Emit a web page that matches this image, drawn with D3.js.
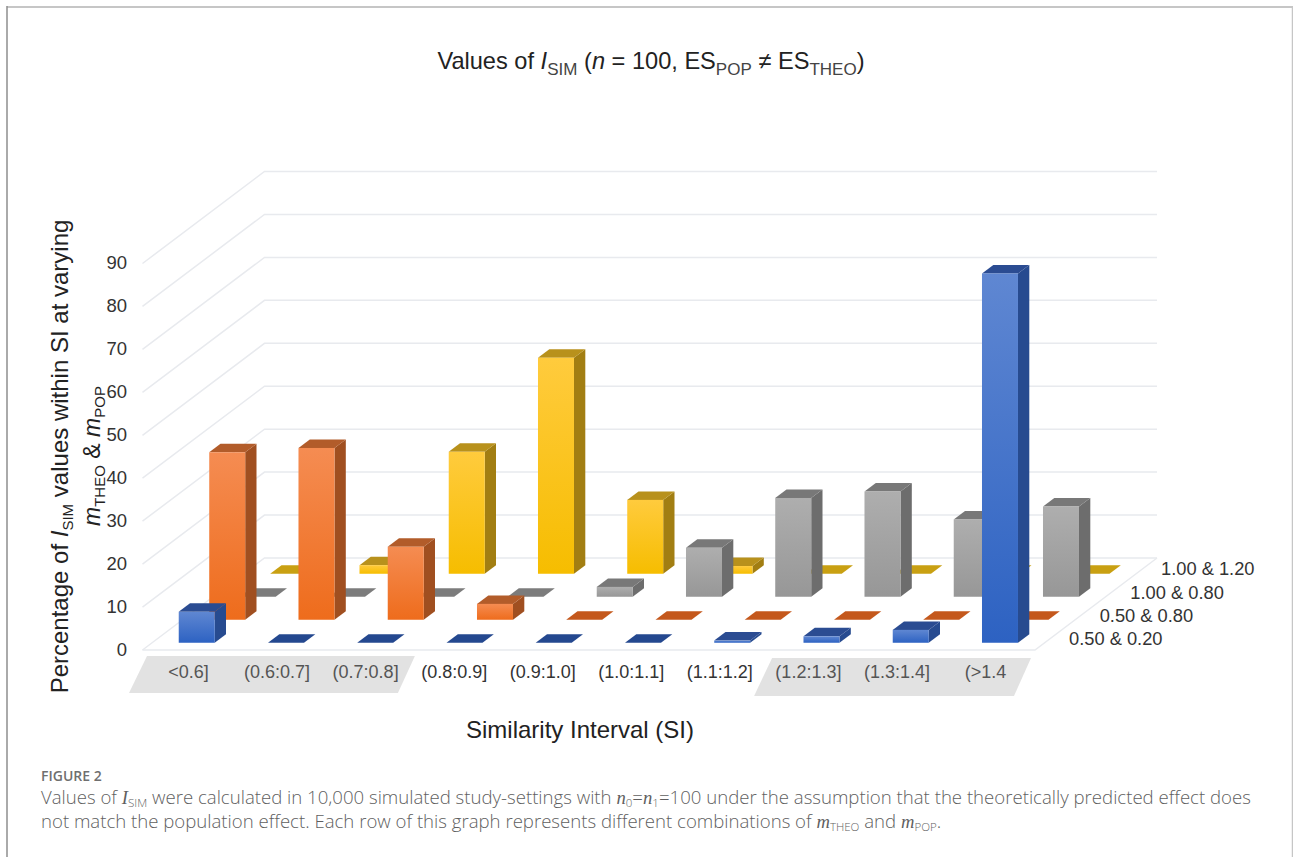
<!DOCTYPE html>
<html>
<head>
<meta charset="utf-8">
<script src="https://cdn.jsdelivr.net/npm/d3@7"></script>
<style>
html,body{margin:0;padding:0;background:#fff}
svg{display:block}
text{font-family:"Liberation Sans",Arial,sans-serif}
text.caption{font-family:"Open Sans",Lato,sans-serif}
</style>
</head>
<body>
<svg id="chart" width="1293" height="857"></svg>
<script>
// Similarity intervals along the horizontal axis
const intervals = ["<0.6]","(0.6:0.7]","(0.7:0.8]","(0.8:0.9]","(0.9:1.0]","(1.0:1.1]","(1.1:1.2]","(1.2:1.3]","(1.3:1.4]","(>1.4"];
// Rows, front to back: mTHEO & mPOP
const rows = ["0.50 & 0.20","0.50 & 0.80","1.00 & 0.80","1.00 & 1.20"];
// Percentage of I_SIM values per interval, one list per row
const row050020 = [7.2,0,0,0,0,0,0.5,1.5,3,86];
const row050080 = [39,40,17,3.7,0,0,0,0,0,0];
const row100080 = [0,0,0,0,2.3,11.4,23,24.5,18,21];
const row100120 = [0,2,28.4,50.3,17.2,1.8,0,0,0,0];
const rowValues = [row050020,row050080,row100080,row100120];
const yTicks = [0,10,20,30,40,50,60,70,80,90];

// Face colours per row: gradient top, gradient bottom, side, cap
const faceTop = ["#5f87d2","#f58c52","#aeaeae","#ffcb3d"];
const faceBottom = ["#2d62c2","#ee6c1c","#979797","#f6bd00"];
const sideFill = ["#274b90","#a04f20","#6d6d6d","#a27e12"];
const capFill = ["#2b4c92","#b25c2a","#787878","#b8911c"];
const flatFill = ["#24488f","#c4581c","#7c7c7c","#c9a012"];

const svg = d3.select("#chart");

// Oblique projection of the floor: x runs along the intervals, z runs into the page
const floor = {x0:142.5, x1:1035, y0:650, dx:122, dy:-92};
const x = d3.scaleBand().domain(d3.range(intervals.length)).range([floor.x0, floor.x1]);
const z = d3.scaleBand().domain(d3.range(rows.length)).range([0,1]);
const y = d3.scaleLinear().domain([0,90]).range([0,-386.5]);
const project = (px,depth,val) => [px + depth*floor.dx, floor.y0 + depth*floor.dy + y(val)];
const poly = pts => pts.map(p => p.map(v => v.toFixed(1)).join(",")).join(" ");

const barW = 36;
const depthFrac = 0.37;

// Vertical gradients for the front faces
const defs = svg.append("defs");
rows.forEach((r,i) => {
  const g = defs.append("linearGradient").attr("id","front"+i).attr("x1",0).attr("y1",0).attr("x2",0).attr("y2",1);
  g.append("stop").attr("offset","0%").attr("stop-color",faceTop[i]);
  g.append("stop").attr("offset","100%").attr("stop-color",faceBottom[i]);
});

// Card frame
svg.append("path").attr("d","M7,7H1293").attr("fill","none").attr("stroke","#c6c6c6").attr("stroke-width",2);
svg.append("path").attr("d","M7,6V857").attr("fill","none").attr("stroke","#8e8e8e").attr("stroke-width",1.5);
svg.append("path").attr("d","M1292.5,6V857").attr("fill","none").attr("stroke","#c6c6c6").attr("stroke-width",1.5);

// Gridlines on the side wall and back wall
const grid = svg.append("g").attr("fill","none").attr("stroke","#e8eaee").attr("stroke-width",1.5);
yTicks.forEach(t => {
  const a = project(floor.x0,0,t), b = project(floor.x0,1,t), c = project(floor.x1,1,t);
  grid.append("polyline").attr("points",poly([a,b,c]));
});
// Floor outline
grid.append("polyline").attr("points",poly([project(floor.x1,1,0),project(floor.x1,0,0),project(floor.x0,0,0)]));

// Alternating bands under the interval labels
const bandX = d3.scaleLinear().domain([0,10]).range([147,1040]);
const bands = [[0,3,656,693],[7,10,658,696]];
svg.append("g").selectAll("polygon").data(bands).join("polygon")
  .attr("fill","#e2e2e2")
  .attr("points",d => {
    const l = bandX(d[0]), r = Math.min(bandX(d[1]),1031);
    return poly([[l,d[2]],[r,d[2]],[r-17,d[3]],[l-18,d[3]]]);
  });

// Bars, painted from the back row to the front
const bars = svg.append("g");
d3.range(rows.length).reverse().forEach(ri => {
  rowValues[ri].forEach((v,ci) => {
    const dz0 = z(ri) + z.bandwidth()*(1-depthFrac)/2;
    const dz1 = dz0 + z.bandwidth()*depthFrac;
    const xl = x(ci) + (x.bandwidth()-barW)/2;
    const xr = xl + barW;
    const f00 = project(xl,dz0,0), f10 = project(xr,dz0,0);
    const f0v = project(xl,dz0,v), f1v = project(xr,dz0,v);
    const b1v = project(xr,dz1,v), b0v = project(xl,dz1,v), b10 = project(xr,dz1,0);
    const g = bars.append("g");
    if (v === 0) {
      g.append("polygon").attr("points",poly([f00,f10,b10,project(xl,dz1,0)])).attr("fill",flatFill[ri]);
      return;
    }
    g.append("polygon").attr("points",poly([f1v,b1v,b10,f10])).attr("fill",sideFill[ri]);
    g.append("polygon").attr("points",poly([f0v,f1v,b1v,b0v])).attr("fill",capFill[ri]);
    g.append("rect").attr("x",f0v[0]).attr("y",f0v[1]).attr("width",barW).attr("height",f00[1]-f0v[1]).attr("fill",`url(#front${ri})`);
  });
});

// Value axis
const yAxisScale = d3.scaleLinear().domain([0,90]).range([650,263]);
const yAxis = svg.append("g").attr("transform","translate(127,0)")
  .call(d3.axisLeft(yAxisScale).tickValues(yTicks).tickSize(0).tickPadding(0));
yAxis.select(".domain").remove();
yAxis.selectAll("text").attr("font-size",18.5).attr("fill","#333").style("font-family","'Liberation Sans',Arial,sans-serif");

// Interval axis
const xLabel = d3.scalePoint().domain(intervals).range([188,985]);
const xAxis = svg.append("g").attr("transform","translate(0,665)")
  .call(d3.axisBottom(xLabel).tickSize(0).tickPadding(0));
xAxis.select(".domain").remove();
xAxis.selectAll("text").attr("font-size",18).attr("fill",(d,i) => (i<3||i>6) ? "#555" : "#333").style("font-family","'Liberation Sans',Arial,sans-serif");

// Row labels stepping along the right edge of the floor
const rowLabel = d3.scalePoint().domain(rows).range([639,569]);
const rowX = d3.scalePoint().domain(rows).range([1069,1161]);
svg.append("g").selectAll("text").data(rows).join("text")
  .attr("x",d => rowX(d)).attr("y",d => rowLabel(d)).attr("dy","0.35em")
  .attr("font-size",18.3).attr("fill","#333").text(d => d);

// Writes runs of text with optional italics and subscripts
function runs(sel, parts, subSize, opts={}) {
  parts.forEach(p => {
    const t = sel.append("tspan").text(p.t);
    if (p.i) t.attr("font-style","italic");
    if (p.f) t.style("font-family",p.f);
    if (p.sub) {
      t.attr("font-size",subSize).attr("dy",opts.drop||5);
      if (opts.fill) t.attr("fill",opts.fill);
      sel.append("tspan").attr("dy",-(opts.drop||5)).attr("font-size",1).text("\u200a");
    }
  });
}

// Title
const title = svg.append("text").attr("x",651).attr("y",69).attr("text-anchor","middle").attr("font-size",23.6).attr("fill","#222");
runs(title,[{t:"Values of "},{t:"I",i:1},{t:"SIM",sub:1},{t:" ("},{t:"n",i:1},{t:" = 100, ES"},{t:"POP",sub:1},{t:" ≠ ES"},{t:"THEO",sub:1},{t:")"}],17,{drop:6,fill:"#444"});

// Axis titles
svg.append("text").attr("x",580).attr("y",738).attr("text-anchor","middle").attr("font-size",24).attr("fill","#222").text("Similarity Interval (SI)");
const yt1 = svg.append("text").attr("transform","translate(68,456.5) rotate(-90)").attr("text-anchor","middle").attr("font-size",24).attr("fill","#222");
runs(yt1,[{t:"Percentage of "},{t:"I",i:1},{t:"SIM",sub:1},{t:" values within SI at varying"}],15,{drop:5});
const yt2 = svg.append("text").attr("transform","translate(100,456) rotate(-90)").attr("text-anchor","middle").attr("font-size",23).attr("fill","#222");
runs(yt2,[{t:"m",i:1},{t:"THEO",sub:1},{t:" & "},{t:"m",i:1},{t:"POP",sub:1}],15,{drop:5});

// Caption
const serif = "'Liberation Serif',serif";
svg.append("text").attr("class","caption").attr("x",41).attr("y",781).attr("font-size",14).attr("font-weight",600).attr("fill","#6f6f6f").text("FIGURE 2");
const c1 = svg.append("text").attr("class","caption").attr("x",41).attr("y",804).attr("font-size",18.6).attr("font-weight",300).attr("fill","#5f5f5f");
runs(c1,[{t:"Values of "},{t:"I",i:1,f:serif},{t:"SIM",sub:1},{t:" were calculated in 10,000 simulated study-settings with "},{t:"n",i:1,f:serif},{t:"0",sub:1},{t:"="},{t:"n",i:1,f:serif},{t:"1",sub:1},{t:"=100 under the assumption that the theoretically predicted effect does"}],11.5,{drop:3});
const c2 = svg.append("text").attr("class","caption").attr("x",41).attr("y",828).attr("font-size",18.6).attr("font-weight",300).attr("fill","#5f5f5f");
runs(c2,[{t:"not match the population effect. Each row of this graph represents different combinations of "},{t:"m",i:1,f:serif},{t:"THEO",sub:1},{t:" and "},{t:"m",i:1,f:serif},{t:"POP",sub:1},{t:"."}],11.5,{drop:3});
</script>
</body>
</html>
